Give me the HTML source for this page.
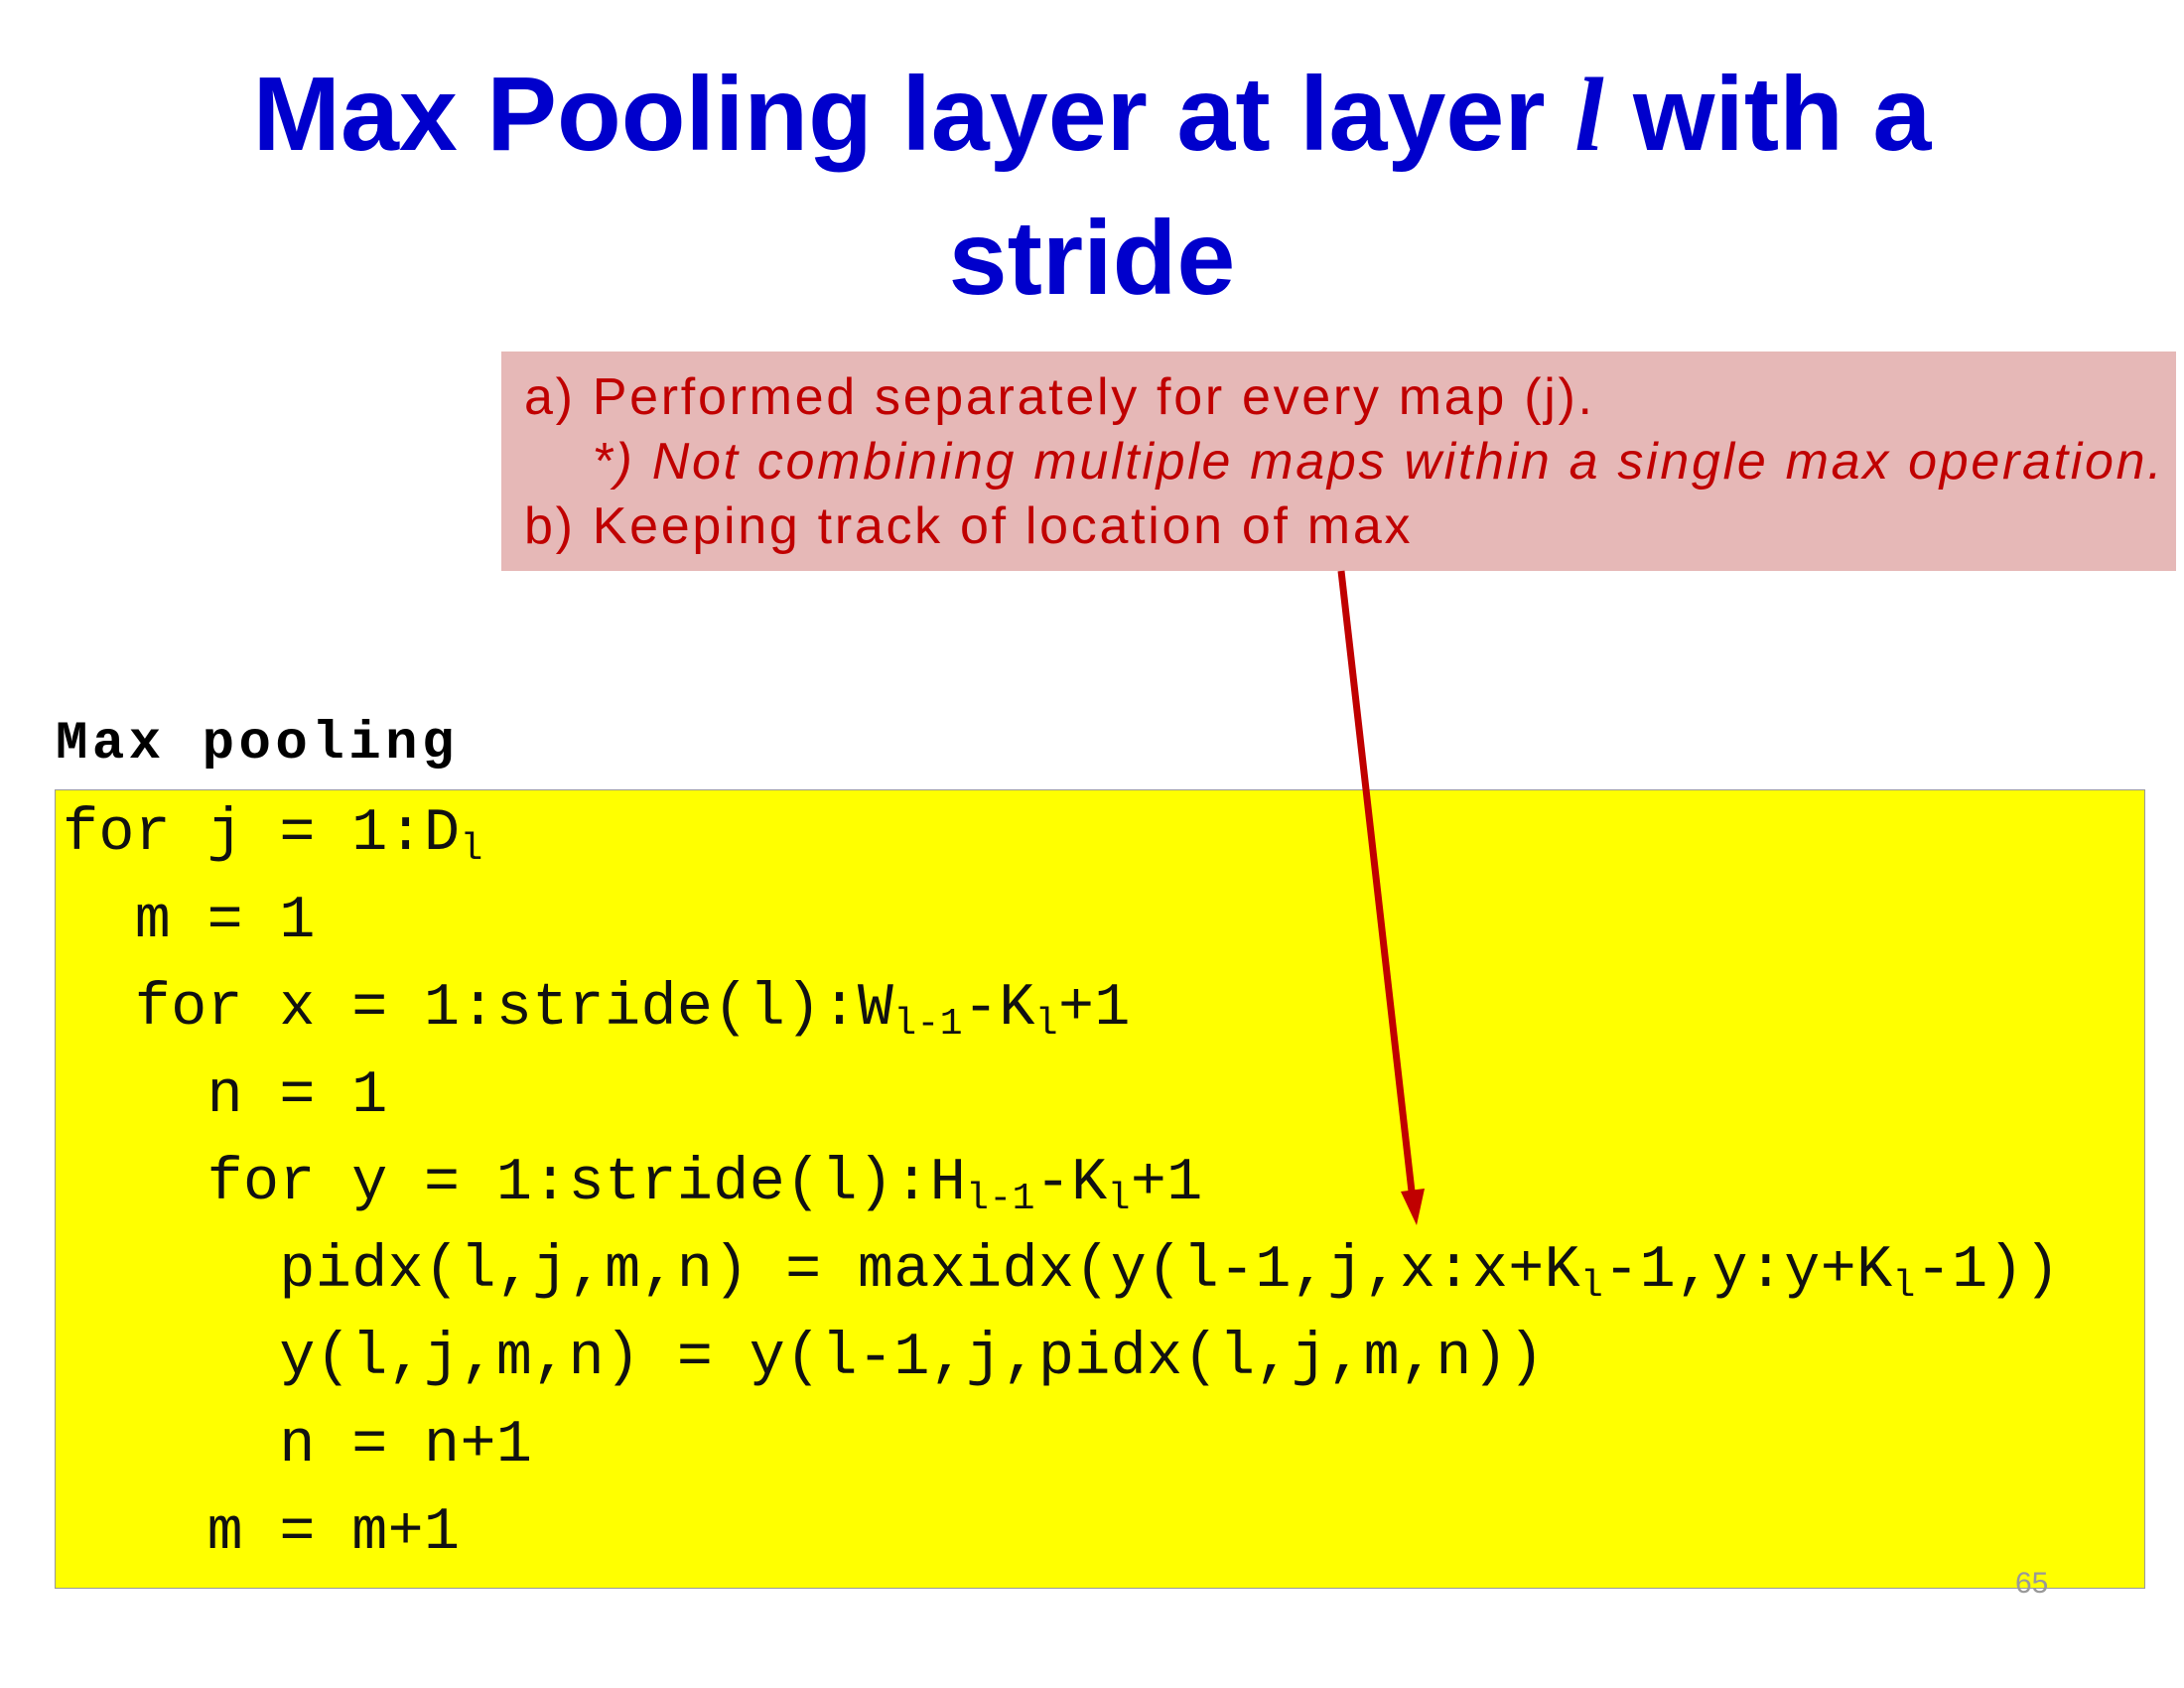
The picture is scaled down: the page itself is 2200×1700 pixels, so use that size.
<!DOCTYPE html>
<html><head><meta charset="utf-8"><style>
body{margin:0;width:2200px;height:1700px;background:#fff;position:relative;overflow:hidden;font-family:"Liberation Sans",sans-serif}
.t{position:absolute;left:0;width:2200px;text-align:center;color:#0000cc;font-weight:bold;font-size:106px;line-height:120px}
.pink{position:absolute;left:505px;top:354px;width:1687px;height:221px;background:#e6b8b7}
.pt{position:absolute;left:528px;color:#c00000;font-size:52px;line-height:60px;white-space:pre;letter-spacing:2.7px}
.code{position:absolute;left:55px;top:795px;width:2106px;height:805px;background:#ffff00;border:1px solid #999;box-sizing:border-box}
.cl{position:absolute;left:63px;font-family:"Liberation Mono",monospace;font-size:60px;line-height:80px;white-space:pre;color:#111;letter-spacing:0.4px}
sub{font-size:38px;vertical-align:-10px;line-height:0}
</style></head><body>
<div class="t" style="top:55px">Max Pooling layer at layer <i style="font-family:'Liberation Serif',serif">l</i> with a</div>
<div class="t" style="top:200px">stride</div>
<div class="pink"></div>
<div class="pt" style="top:370px">a) Performed separately for every map (j).</div>
<div class="pt" style="top:435px;font-style:italic">    *) Not combining multiple maps within a single max operation.</div>
<div class="pt" style="top:500px">b) Keeping track of location of max</div>
<div style="position:absolute;left:56px;top:720px;font-family:'Liberation Mono',monospace;font-weight:bold;font-size:54px;line-height:60px;letter-spacing:4.5px">Max pooling</div>
<div class="code"></div>
<div class="cl" style="top:800px">for j = 1:D<sub>l</sub></div>
<div class="cl" style="top:888px">  m = 1</div>
<div class="cl" style="top:976px">  for x = 1:stride(l):W<sub>l-1</sub>-K<sub>l</sub>+1</div>
<div class="cl" style="top:1064px">    n = 1</div>
<div class="cl" style="top:1152px">    for y = 1:stride(l):H<sub>l-1</sub>-K<sub>l</sub>+1</div>
<div class="cl" style="top:1240px">      pidx(l,j,m,n) = maxidx(y(l-1,j,x:x+K<sub>l</sub>-1,y:y+K<sub>l</sub>-1))</div>
<div class="cl" style="top:1328px">      y(l,j,m,n) = y(l-1,j,pidx(l,j,m,n))</div>
<div class="cl" style="top:1416px">      n = n+1</div>
<div class="cl" style="top:1504px">    m = m+1</div>
<div style="position:absolute;left:2030px;top:1578px;color:#999;font-size:30px">65</div>
<svg style="position:absolute;left:0;top:0" width="2200" height="1700">
<line x1="1351" y1="575" x2="1422" y2="1200" stroke="#c00000" stroke-width="7"/>
<polygon points="1427,1234 1411,1200 1435,1197" fill="#c00000"/>
</svg>
</body></html>
